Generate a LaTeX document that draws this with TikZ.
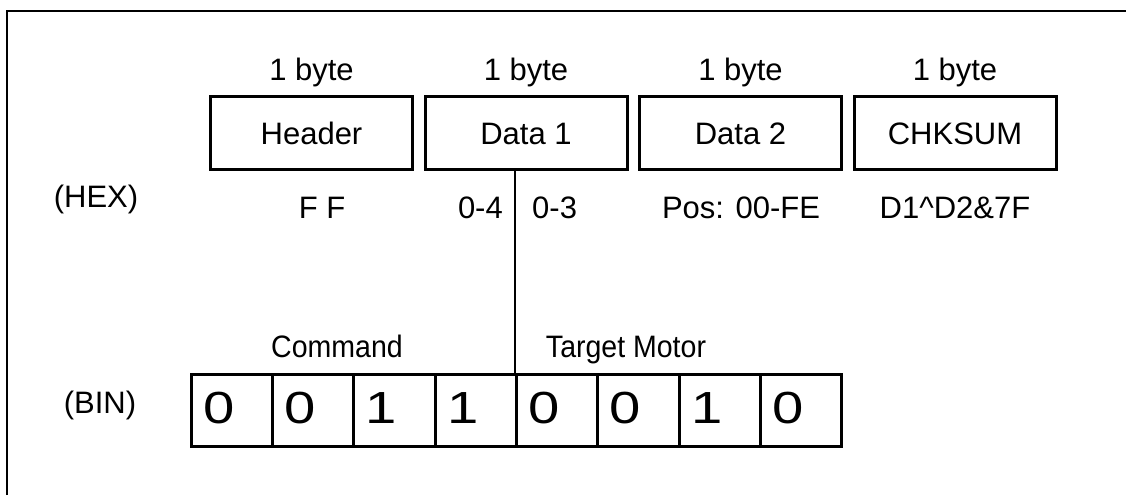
\documentclass[tikz,border=0pt]{standalone}
\usepackage{fontspec}
\setmainfont{Liberation Sans}
\begin{document}
\begin{tikzpicture}[x=1pt,y=-1pt,
  lbl/.style={font=\fontsize{31}{37}\selectfont, inner sep=0pt, anchor=base},
  field/.style={draw, line width=3pt, minimum width=202pt, minimum height=72.5pt,
    inner sep=0pt, font=\fontsize{31}{37}\selectfont, text height=22.2pt, text depth=0pt},
  bitcell/.style={draw, line width=3pt, minimum width=81.3pt, minimum height=72pt,
    inner xsep=12pt, inner ysep=0pt, text width=57.3pt, align=left,
    font=\fontsize{45}{51}\selectfont, text height=30pt, text depth=4pt},
  frameline/.style={line width=2pt},
  link/.style={line width=2.5pt}]
\useasboundingbox (0,0) rectangle (1126,495);
\draw[frameline] (7,495) -- (7,10.7) -- (1126,10.7);

% byte fields
\node[field] (hdr) at (311.5,133) {Header};
\node[field] (d1)  at (526,133)   {Data 1};
\node[field] (d2)  at (740.5,133) {Data 2};
\node[field] (chk) at (955,133)   {CHKSUM};

\foreach \n in {hdr,d1,d2,chk}
  \node[lbl] (by\n) at (\n.center |- 0,80) {1 byte};

% hex values
\node[lbl] (hex) at (96,207) {(HEX)};
\node[lbl] (vff) at (322,218) {F F};
\node[lbl, anchor=base east] (v04) at (503,218) {0-4};
\node[lbl, anchor=base west] (v03) at (532,218) {0-3};
\node[lbl] (vpos) at (741,218) {Pos: 00-FE};
\node[lbl] (vchk) at (955,218) {D1\textasciicircum D2\&7F};

% bits
\foreach \b [count=\i from 0] in {0,0,1,1,0,0,1,0}
  \node[bitcell] (b\i) at ({191.3+81.3*(\i+0.5)},410) {\scalebox{1.25}[1]{\b}};

\node[lbl] (bin) at (100,413) {(BIN)};
\node[lbl] (cmd) at (337,357) {\scalebox{0.92}[1]{Command}};
\node[lbl] (tgt) at (626,357) {\scalebox{0.92}[1]{Target Motor}};

% divider line from Data 1 to bit boundary
\draw[link] (b4.north west) -- (b4.north west |- d1.south);
\end{tikzpicture}
\end{document}
